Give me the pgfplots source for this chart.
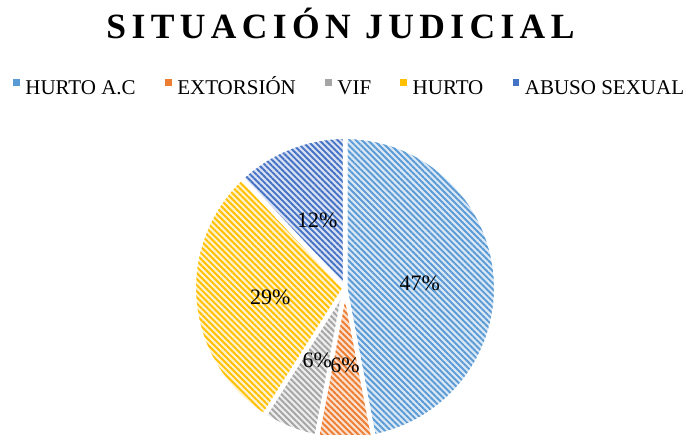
\documentclass[border=0pt]{standalone}
\usepackage{pgfplots}
\pgfplotsset{compat=1.18}
\usepackage{pgfplotstable}
\usepackage{fontspec}
\setmainfont{Liberation Serif}
\newfontfamily\titlefont[LetterSpace=15.2]{Liberation Serif}
\usetikzlibrary{patterns.meta}

\definecolor{dA}{HTML}{5B9BD5}\definecolor{lA}{HTML}{DAE8F5}
\definecolor{dB}{HTML}{ED7D31}\definecolor{lB}{HTML}{FBE0CF}
\definecolor{dC}{HTML}{A5A5A5}\definecolor{lC}{HTML}{EDEDED}
\definecolor{dD}{HTML}{FFC000}\definecolor{lD}{HTML}{FFF2CC}
\definecolor{dE}{HTML}{4472C4}\definecolor{lE}{HTML}{D9E1F2}

\pgfplotstableread[col sep=comma]{
label,value
HURTO A.C,47
EXTORSIÓN,6
VIF,6
HURTO,29
ABUSO SEXUAL,12
}\piedata

\newcommand\slice[4]{%
\addplot[preaction={fill=#3},
  pattern={Lines[angle=-45,distance=4.3bp,line width=1.9bp]}, pattern color=#4,
  draw=white, line width=4.5bp, line join=round,
  domain=#2:#1, samples=90, variable=\t,
  legend image code/.code={\path[fill=#4, draw=none] (0bp,3.3bp) rectangle (6.5bp,9.8bp);}]
  ({\cx+\R*cos(\t)},{\cy+\R*sin(\t)}) -- (axis cs:\cx,\cy) -- cycle;
}

\begin{document}
\begin{tikzpicture}
\pgfplotstablegetelem{0}{value}\of\piedata\edef\vA{\pgfplotsretval}
\pgfplotstablegetelem{1}{value}\of\piedata\edef\vB{\pgfplotsretval}
\pgfplotstablegetelem{2}{value}\of\piedata\edef\vC{\pgfplotsretval}
\pgfplotstablegetelem{3}{value}\of\piedata\edef\vD{\pgfplotsretval}
\pgfplotstablegetelem{4}{value}\of\piedata\edef\vE{\pgfplotsretval}
\def\cx{345}\def\cy{147}\def\R{151.25}\def\Rl{75}
\pgfmathsetmacro\sA{90}
\pgfmathsetmacro\eA{\sA-3.6*\vA}
\pgfmathsetmacro\eB{\eA-3.6*\vB}
\pgfmathsetmacro\eC{\eB-3.6*\vC}
\pgfmathsetmacro\eD{\eC-3.6*\vD}
\pgfmathsetmacro\eE{\eD-3.6*\vE}
\pgfmathsetmacro\xA{\cx+\Rl*cos((\sA+\eA)/2)}\pgfmathsetmacro\yA{\cy+\Rl*sin((\sA+\eA)/2)}
\pgfmathsetmacro\xB{\cx+\Rl*cos((\eA+\eB)/2)}\pgfmathsetmacro\yB{\cy+\Rl*sin((\eA+\eB)/2)}
\pgfmathsetmacro\xC{\cx+\Rl*cos((\eB+\eC)/2)}\pgfmathsetmacro\yC{\cy+\Rl*sin((\eB+\eC)/2)}
\pgfmathsetmacro\xD{\cx+\Rl*cos((\eC+\eD)/2)}\pgfmathsetmacro\yD{\cy+\Rl*sin((\eC+\eD)/2)}
\pgfmathsetmacro\xE{\cx+\Rl*cos((\eD+\eE)/2)}\pgfmathsetmacro\yE{\cy+\Rl*sin((\eD+\eE)/2)}
\begin{axis}[at={(0,0)}, anchor=south west,
  width=689bp, height=435bp, scale only axis,
  xmin=0, xmax=689, ymin=0, ymax=435, hide axis,
  legend columns=5,
  legend style={draw=none, fill=none, at={(0.5044,0.7977)}, anchor=center,
    font=\fontsize{21bp}{25bp}\selectfont,
    nodes={inner sep=0pt, text height=15bp, text depth=4bp},
    /tikz/every odd column/.append style={column sep=3.5bp},
    /tikz/every even column/.append style={column sep=27bp}},
]
\slice{\sA}{\eA}{lA}{dA}\addlegendentry{HURTO A.C}
\slice{\eA}{\eB}{lB}{dB}\addlegendentry{EXTORSIÓN}
\slice{\eB}{\eC}{lC}{dC}\addlegendentry{VIF}
\slice{\eC}{\eD}{lD}{dD}\addlegendentry{HURTO}
\slice{\eD}{\eE}{lE}{dE}\addlegendentry{ABUSO SEXUAL}
\tikzset{pct/.style={font=\fontsize{22bp}{26bp}\selectfont, yshift=-2.5bp}}
\node[pct] at (axis cs:\xA,\yA) {\vA\%};
\node[pct] at (axis cs:\xB,\yB) {\vB\%};
\node[pct] at (axis cs:\xC,\yC) {\vC\%};
\node[pct] at (axis cs:\xD,\yD) {\vD\%};
\node[pct] at (axis cs:\xE,\yE) {\vE\%};
\node[anchor=base, inner sep=0pt, font=\titlefont\bfseries\fontsize{35.5bp}{40bp}\selectfont] at (axis cs:340.5,396) {SITUACIÓN JUDICIAL};
\end{axis}
\pgfresetboundingbox
\path[use as bounding box] (0,0) rectangle (689bp,435bp);
\end{tikzpicture}
\end{document}
